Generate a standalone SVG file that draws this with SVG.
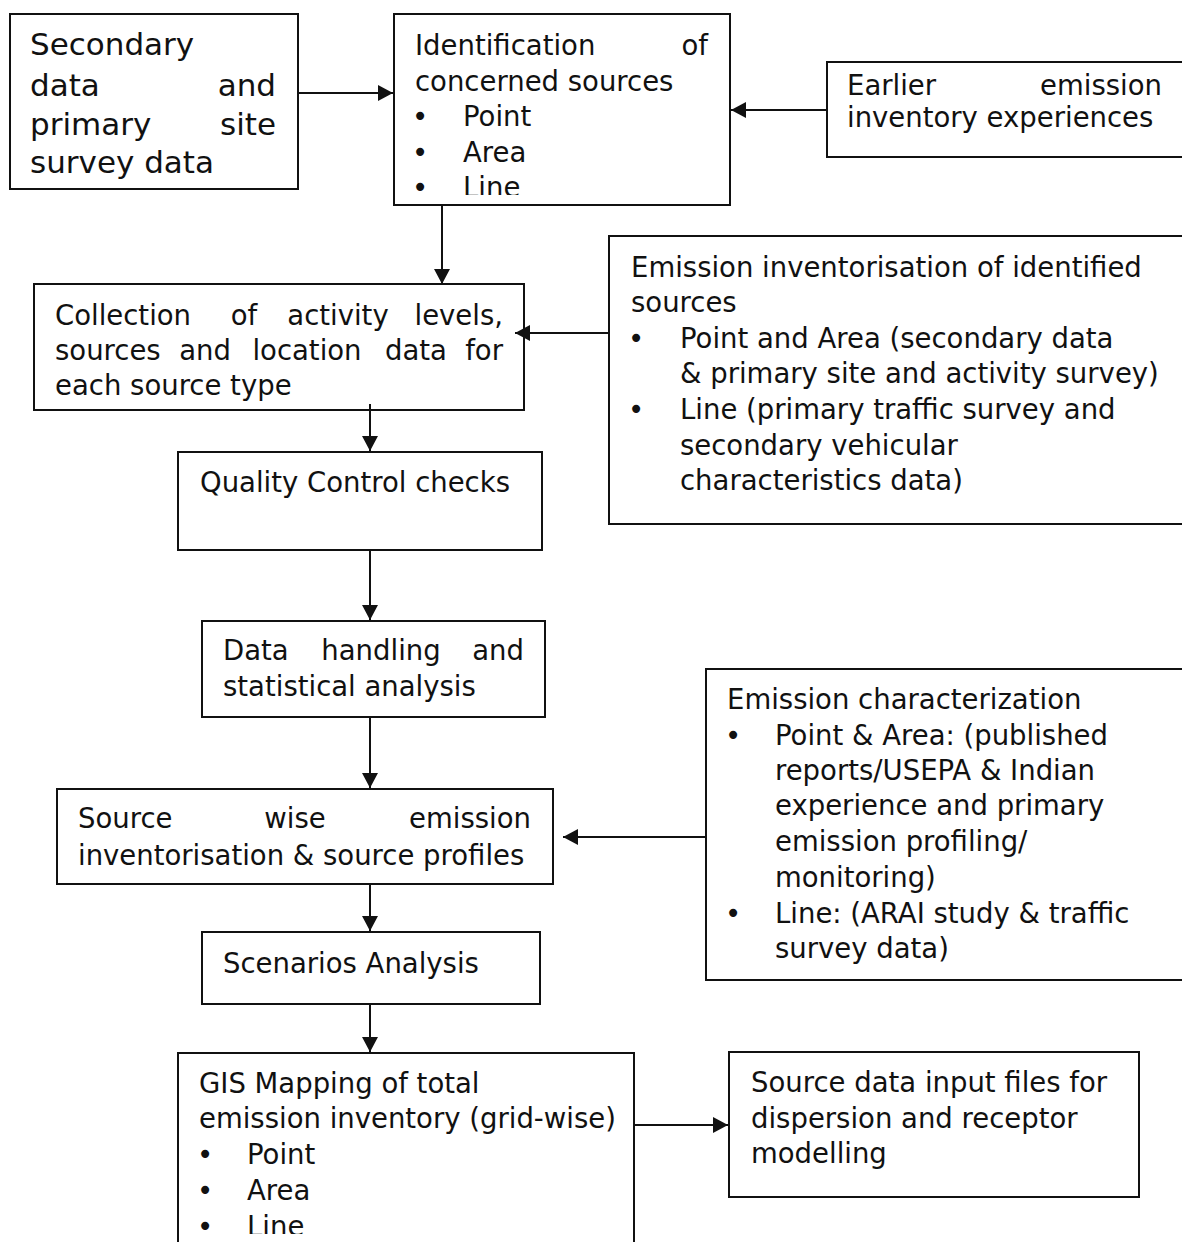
<svg xmlns="http://www.w3.org/2000/svg" width="1182" height="1242" viewBox="0 0 1182 1242">
  <style>
    .box { fill: #ffffff; stroke: #111111; stroke-width: 2; }
    .txt { font-family: "DejaVu Sans", "Liberation Sans", sans-serif; font-size: 27.5px; fill: #111111; }
    .big { font-size: 31px; }
    .end { text-anchor: end; }
    .mid { text-anchor: middle; }
    .conn { stroke: #111111; stroke-width: 2; fill: none; marker-end: url(#head); }
  </style>
  <defs>
    <marker id="head" viewBox="0 0 15 16" markerWidth="15" markerHeight="16" refX="15" refY="8" orient="auto" markerUnits="userSpaceOnUse">
      <path d="M0,0 L15,8 L0,16 z" fill="#111111"/>
    </marker>
    <clipPath id="clipIdent"><rect x="395" y="15" width="334" height="180"/></clipPath>
    <clipPath id="clipGis"><rect x="179" y="1054" width="454" height="180"/></clipPath>
  </defs>

  <rect width="1182" height="1242" fill="#ffffff"/>

  <!-- input data -->
  <g id="secondary-data">
    <rect class="box" x="10" y="14" width="288" height="175"/>
    <text class="txt big" x="30" y="55">Secondary</text>
    <text class="txt big" x="30" y="96">data</text>
    <text class="txt big end" x="276" y="96">and</text>
    <text class="txt big" x="30" y="135">primary</text>
    <text class="txt big end" x="276" y="135">site</text>
    <text class="txt big" x="30" y="173">survey data</text>
  </g>

  <g id="identification">
    <rect class="box" x="394" y="14" width="336" height="191"/>
    <g clip-path="url(#clipIdent)">
      <text class="txt" x="415" y="55">Identification</text>
      <text class="txt end" x="708" y="55">of</text>
      <text class="txt" x="415" y="90.5">concerned sources</text>
      <text class="txt mid" x="420" y="126">•</text>
      <text class="txt" x="463" y="126">Point</text>
      <text class="txt mid" x="420" y="161.5">•</text>
      <text class="txt" x="463" y="161.5">Area</text>
      <text class="txt mid" x="420" y="197">•</text>
      <text class="txt" x="463" y="197">Line</text>
    </g>
  </g>

  <g id="earlier-experience">
    <rect class="box" x="827" y="62" width="363" height="95"/>
    <text class="txt" x="847" y="95">Earlier</text>
    <text class="txt end" x="1162" y="95">emission</text>
    <text class="txt" x="847" y="127">inventory experiences</text>
  </g>

  <g id="activity-collection">
    <rect class="box" x="34" y="284" width="490" height="126"/>
    <text class="txt" x="55" y="325">Collection</text>
    <text class="txt mid" x="244" y="325">of</text>
    <text class="txt mid" x="338" y="325">activity</text>
    <text class="txt end" x="503" y="325">levels,</text>
    <text class="txt" x="55" y="360">sources</text>
    <text class="txt mid" x="205" y="360">and</text>
    <text class="txt mid" x="307" y="360">location</text>
    <text class="txt mid" x="416" y="360">data</text>
    <text class="txt end" x="503" y="360">for</text>
    <text class="txt" x="55" y="395">each source type</text>
  </g>

  <g id="inventorisation">
    <rect class="box" x="609" y="236" width="581" height="288"/>
    <text class="txt" x="631" y="277">Emission inventorisation of identified</text>
    <text class="txt" x="631" y="312">sources</text>
    <text class="txt mid" x="636" y="348">•</text>
    <text class="txt" x="680" y="348">Point and Area (secondary data</text>
    <text class="txt" x="680" y="383">&amp; primary site and activity survey)</text>
    <text class="txt mid" x="636" y="419">•</text>
    <text class="txt" x="680" y="419">Line (primary traffic survey and</text>
    <text class="txt" x="680" y="455">secondary vehicular</text>
    <text class="txt" x="680" y="490">characteristics data)</text>
  </g>

  <!-- processing chain -->
  <g id="quality-control">
    <rect class="box" x="178" y="452" width="364" height="98"/>
    <text class="txt" x="200" y="492">Quality Control checks</text>
  </g>

  <g id="data-handling">
    <rect class="box" x="202" y="621" width="343" height="96"/>
    <text class="txt" x="223" y="660">Data</text>
    <text class="txt mid" x="381" y="660">handling</text>
    <text class="txt end" x="524" y="660">and</text>
    <text class="txt" x="223" y="696">statistical analysis</text>
  </g>

  <g id="source-profiles">
    <rect class="box" x="57" y="789" width="496" height="95"/>
    <text class="txt" x="78" y="828">Source</text>
    <text class="txt mid" x="295" y="828">wise</text>
    <text class="txt end" x="531" y="828">emission</text>
    <text class="txt" x="78" y="865">inventorisation &amp; source profiles</text>
  </g>

  <g id="characterization">
    <rect class="box" x="706" y="669" width="484" height="311"/>
    <text class="txt" x="727" y="709">Emission characterization</text>
    <text class="txt mid" x="733" y="745">•</text>
    <text class="txt" x="775" y="745">Point &amp; Area: (published</text>
    <text class="txt" x="775" y="780">reports/USEPA &amp; Indian</text>
    <text class="txt" x="775" y="815">experience and primary</text>
    <text class="txt" x="775" y="851">emission profiling/</text>
    <text class="txt" x="775" y="887">monitoring)</text>
    <text class="txt mid" x="733" y="923">•</text>
    <text class="txt" x="775" y="923">Line: (ARAI study &amp; traffic</text>
    <text class="txt" x="775" y="958">survey data)</text>
  </g>

  <g id="scenarios">
    <rect class="box" x="202" y="932" width="338" height="72"/>
    <text class="txt" x="223" y="973">Scenarios Analysis</text>
  </g>

  <g id="gis-mapping">
    <rect class="box" x="178" y="1053" width="456" height="207"/>
    <g clip-path="url(#clipGis)">
      <text class="txt" x="199" y="1093">GIS Mapping of total</text>
      <text class="txt" x="199" y="1128">emission inventory (grid-wise)</text>
      <text class="txt mid" x="205" y="1164">•</text>
      <text class="txt" x="247" y="1164">Point</text>
      <text class="txt mid" x="205" y="1200">•</text>
      <text class="txt" x="247" y="1200">Area</text>
      <text class="txt mid" x="205" y="1236">•</text>
      <text class="txt" x="247" y="1236">Line</text>
    </g>
  </g>

  <g id="model-inputs">
    <rect class="box" x="729" y="1052" width="410" height="145"/>
    <text class="txt" x="751" y="1092">Source data input files for</text>
    <text class="txt" x="751" y="1128">dispersion and receptor</text>
    <text class="txt" x="751" y="1163">modelling</text>
  </g>

  <!-- connectors, drawn over the boxes -->
  <g id="connectors">
    <line class="conn" x1="298" y1="93" x2="393" y2="93"/>
    <line class="conn" x1="827" y1="110" x2="731" y2="110"/>
    <line class="conn" x1="442" y1="206" x2="442" y2="284"/>
    <line class="conn" x1="609" y1="333" x2="515" y2="333"/>
    <line class="conn" x1="370" y1="404" x2="370" y2="451"/>
    <line class="conn" x1="370" y1="551" x2="370" y2="620"/>
    <line class="conn" x1="370" y1="718" x2="370" y2="788"/>
    <line class="conn" x1="705" y1="837" x2="563" y2="837"/>
    <line class="conn" x1="370" y1="885" x2="370" y2="931"/>
    <line class="conn" x1="370" y1="1005" x2="370" y2="1052"/>
    <line class="conn" x1="635" y1="1125" x2="728" y2="1125"/>
  </g>
</svg>
